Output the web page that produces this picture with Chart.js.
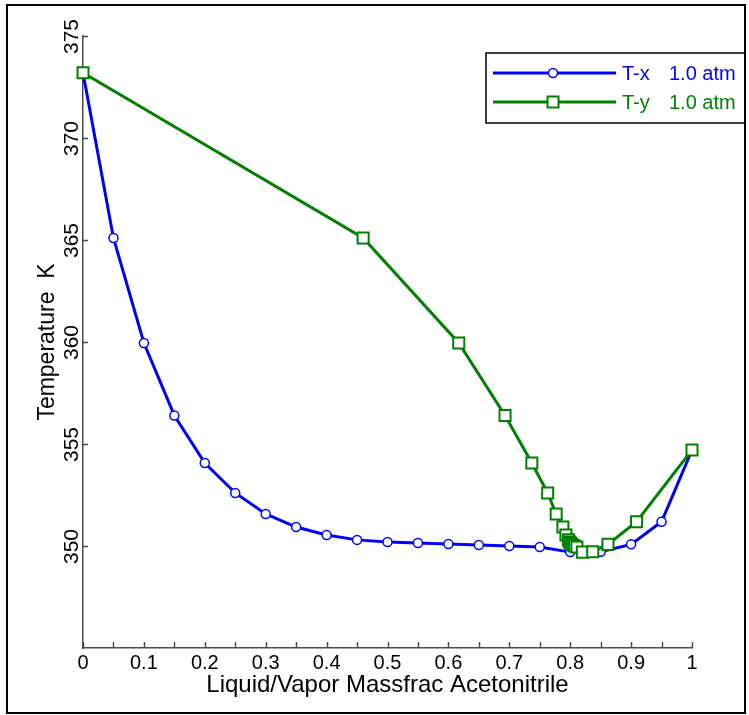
<!DOCTYPE html>
<html>
<head>
<meta charset="utf-8">
<script src="https://cdn.jsdelivr.net/npm/chart.js@4.4.1/dist/chart.umd.min.js"></script>
<style>
  html, body { margin: 0; padding: 0; background: #fff; }
  canvas { display: block; }
</style>
</head>
<body>
<canvas id="chart" width="749" height="715"></canvas>
<script>
// liquid composition and bubble temperature (T-x)
const liquidFrac = [0, 0.05, 0.1, 0.15, 0.2, 0.25, 0.3, 0.35, 0.4, 0.45, 0.5,
  0.55, 0.6, 0.65, 0.7, 0.75, 0.8, 0.85, 0.9, 0.95, 1.0];
const tempK = [373.2, 365.1, 359.95, 356.4, 354.07, 352.6, 351.57, 350.93, 350.54, 350.3, 350.2,
  350.15, 350.1, 350.05, 350.0, 349.95, 349.7, 349.72, 350.08, 351.19, 354.71];
// vapor composition at the same temperatures (T-y)
const vaporFrac = [0, 0.46, 0.617, 0.693, 0.737, 0.763, 0.777, 0.788, 0.793, 0.797, 0.799,
  0.800, 0.802, 0.804, 0.807, 0.811, 0.820, 0.837, 0.862, 0.909, 1.0];

const xTickLabels = ['0', '0.1', '0.2', '0.3', '0.4', '0.5', '0.6', '0.7', '0.8', '0.9', '1'];
const yTickValues = [350, 355, 360, 365, 370, 375];

const FONT = '"Liberation Sans", Arial, sans-serif';
const AXIS_COLOR = '#4a4a4a';
const BLUE = '#0000ff';
const GREEN = '#008000';

const txData = liquidFrac.map((x, i) => ({x: x, y: tempK[i]}));
const tyData = vaporFrac.map((x, i) => ({x: x, y: tempK[i]}));

// ticks inside the axes, rotated y labels, legend box and outer frame
const decorations = {
  id: 'decorations',
  afterDraw(chart) {
    const ctx = chart.ctx;
    const xs = chart.scales.x, ys = chart.scales.y;
    const area = chart.chartArea;
    ctx.save();
    ctx.strokeStyle = AXIS_COLOR;
    ctx.lineWidth = 1.5;
    // x ticks every 0.05, pointing up
    xs.ticks.forEach(t => {
      const px = Math.round(xs.getPixelForValue(t.value)) + 0.5;
      ctx.beginPath();
      ctx.moveTo(px, area.bottom);
      ctx.lineTo(px, area.bottom - 6);
      ctx.stroke();
    });
    // y ticks pointing right + vertical labels
    ctx.fillStyle = '#000';
    ctx.font = '21px ' + FONT;
    ctx.textAlign = 'center';
    ctx.textBaseline = 'middle';
    yTickValues.forEach(v => {
      const py = Math.round(ys.getPixelForValue(v)) + 0.5;
      ctx.beginPath();
      ctx.moveTo(area.left, py);
      ctx.lineTo(area.left + 5, py);
      ctx.stroke();
      ctx.save();
      ctx.translate(71, py);
      ctx.rotate(-Math.PI / 2);
      ctx.fillText(String(v), 0, 1);
      ctx.restore();
    });

    // legend
    const lx = 486, ly = 53, lw = 259, lh = 70;
    ctx.fillStyle = '#fff';
    ctx.fillRect(lx, ly, lw, lh);
    ctx.strokeStyle = '#000';
    ctx.lineWidth = 1.5;
    ctx.strokeRect(lx, ly, lw, lh);

    const rows = [
      {y: 73, color: BLUE, name: 'T-x', marker: 'circle'},
      {y: 102, color: GREEN, name: 'T-y', marker: 'square'}
    ];
    ctx.font = '20px ' + FONT;
    ctx.textAlign = 'left';
    ctx.textBaseline = 'alphabetic';
    rows.forEach(r => {
      ctx.strokeStyle = r.color;
      ctx.lineWidth = 3;
      ctx.beginPath();
      ctx.moveTo(493, r.y);
      ctx.lineTo(616, r.y);
      ctx.stroke();
      ctx.fillStyle = '#fff';
      if (r.marker === 'circle') {
        ctx.lineWidth = 1.5;
        ctx.beginPath();
        ctx.arc(553, r.y, 4.5, 0, Math.PI * 2);
        ctx.fill();
        ctx.stroke();
      } else {
        ctx.lineWidth = 2;
        ctx.fillRect(547.5, r.y - 5.5, 11, 11);
        ctx.strokeRect(547.5, r.y - 5.5, 11, 11);
      }
      ctx.fillStyle = r.color;
      ctx.fillText(r.name, 622, r.y + 7);
      ctx.fillText('1.0 atm', 669, r.y + 7);
    });

    // outer frame
    ctx.strokeStyle = '#000';
    ctx.lineWidth = 2;
    ctx.strokeRect(7, 5, 738, 708);
    ctx.restore();
  }
};

new Chart(document.getElementById('chart'), {
  type: 'line',
  data: {
    datasets: [
      {
        label: 'T-x  1.0 atm',
        data: txData,
        borderColor: BLUE,
        borderWidth: 3,
        pointStyle: 'circle',
        pointRadius: 4.5,
        pointBorderWidth: 1.5,
        pointBackgroundColor: '#fff',
        pointBorderColor: BLUE,
        clip: false,
        order: 1
      },
      {
        label: 'T-y  1.0 atm',
        data: tyData,
        borderColor: GREEN,
        borderWidth: 3,
        pointStyle: 'rect',
        pointRadius: 7.8,
        pointBorderWidth: 2,
        pointBackgroundColor: '#fff',
        pointBorderColor: GREEN,
        clip: false,
        order: 0
      }
    ]
  },
  options: {
    responsive: false,
    devicePixelRatio: 1,
    animation: false,
    layout: {padding: {left: 0, top: 36, right: 57, bottom: 0}},
    plugins: {legend: {display: false}, tooltip: {enabled: false}},
    elements: {line: {tension: 0}},
    scales: {
      x: {
        type: 'linear',
        min: 0,
        max: 1,
        afterFit: s => { s.height = 67; },
        grid: {display: false},
        border: {display: true, color: AXIS_COLOR, width: 1.5},
        ticks: {
          stepSize: 0.05,
          autoSkip: false,
          maxRotation: 0,
          padding: -5,
          color: '#000',
          font: {family: FONT, size: 20},
          callback: v => {
            const k = Math.round(v * 20);
            return k % 2 === 0 ? xTickLabels[k / 2] : '';
          }
        },
        title: {
          display: true,
          text: 'Liquid/Vapor Massfrac Acetonitrile',
          color: '#000',
          font: {family: FONT, size: 24},
          padding: {top: 0, bottom: 15}
        }
      },
      y: {
        type: 'linear',
        min: 345,
        max: 375,
        afterFit: s => { s.width = 83; },
        grid: {display: false},
        border: {display: true, color: AXIS_COLOR, width: 1.5},
        ticks: {
          stepSize: 5,
          color: 'rgba(0,0,0,0)',
          font: {family: FONT, size: 20}
        },
        title: {
          display: true,
          text: 'Temperature  K',
          color: '#000',
          font: {family: FONT, size: 23},
          padding: {top: 34, bottom: 0}
        }
      }
    }
  },
  plugins: [decorations]
});
</script>
</body>
</html>
